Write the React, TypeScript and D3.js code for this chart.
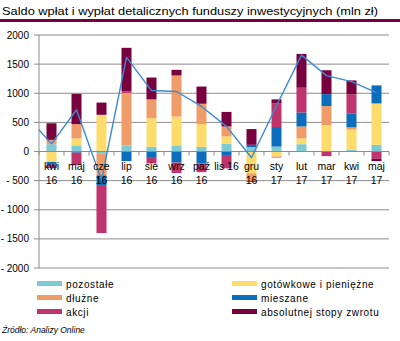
import React from "react";
import * as d3 from "d3";

const categories = ["kwi 16","maj 16","cze 16","lip 16","sie 16","wrz 16","paź 16","lis 16","gru 16","sty 17","lut 17","mar 17","kwi 17","maj 17"];
const xLabels: string[][] = [["kwi","16"],["maj","16"],["cze","16"],["lip","16"],["sie","16"],["wrz","16"],["paź","16"],["lis 16"],["gru","16"],["sty","17"],["lut","17"],["mar","17"],["kwi","17"],["maj","17"]];

const pozostale  = [125, 105, -30, 105, 80, 105, 80, 135, 75, 85, 125, 10, 30, 115];
const gotowkowe  = [-180, 120, 630, 0, 490, 495, 390, 125, -375, -85, 100, 445, 345, 710];
const dluzne     = [75, 245, -380, 900, 325, 705, 350, 170, -130, -25, 205, 325, 40, 0];
const mieszane   = [-45, -20, -180, -165, -95, -190, -205, -75, 40, 335, 240, 205, 240, 310];
const akcji      = [-60, -210, -810, 30, -110, -180, -150, -215, -20, 405, 425, -80, 325, -125];
const absolutnej = [285, 520, 210, 745, 375, 97, 295, 250, 270, 70, 580, 410, 240, -40];

// total line; first value belongs to the month before the first category
const linePrev = 610;
const lineTotal = [131, 717, -490, 1616, 1046, 1030, 773, 432, -108, 785, 1655, 1302, 1200, 1010];

const yTicks = [2000, 1500, 1000, 500, 0, -500, -1000, -1500, -2000];

const seriesKeys = ["pozostale", "gotowkowe", "dluzne", "mieszane", "akcji", "absolutnej"];
const seriesNames: Record<string, string> = {
  pozostale: "pozostałe",
  gotowkowe: "gotówkowe i pieniężne",
  dluzne: "dłużne",
  mieszane: "mieszane",
  akcji: "akcji",
  absolutnej: "absolutnej stopy zwrotu",
};
const seriesColors: Record<string, string> = {
  pozostale: "#7ccad2",
  gotowkowe: "#fddc6c",
  dluzne: "#ef9c69",
  mieszane: "#0b6ebd",
  akcji: "#bf346c",
  absolutnej: "#78003f",
};
const legendLeft = ["pozostale", "dluzne", "akcji"];
const legendRight = ["gotowkowe", "mieszane", "absolutnej"];

export default function App() {
  const W = 400, H = 341;
  const left = 39, right = 389, top = 35, bottom = 268;
  const font = "'Liberation Sans', Arial, sans-serif";

  const rows = categories.map((c, i) => ({
    cat: c,
    pozostale: pozostale[i],
    gotowkowe: gotowkowe[i],
    dluzne: dluzne[i],
    mieszane: mieszane[i],
    akcji: akcji[i],
    absolutnej: absolutnej[i],
  }));

  const x = d3.scaleBand<string>().domain(categories).range([left, right]).paddingInner(0.6).paddingOuter(0.3);
  const y = d3.scaleLinear().domain([-2000, 2000]).range([bottom, top]);
  const stack = d3.stack<any>().keys(seriesKeys).offset(d3.stackOffsetDiverging);
  const stacked = stack(rows);

  const step = x.step();
  const cx = (i: number) => (x(categories[i]) as number) + x.bandwidth() / 2;
  const linePts: [number, number][] = [[cx(0) - step, y(linePrev)], ...lineTotal.map((v, i) => [cx(i), y(v)] as [number, number])];
  const linePath = d3.line()(linePts) as string;

  const y0 = y(0);

  return (
    <svg width={W} height={H} style={{ position: "absolute", left: 0, top: 0 }} fontFamily={font}>
      <defs>
        <clipPath id="plotclip">
          <rect x={left} y={top - 5} width={right - left} height={bottom - top + 10} />
        </clipPath>
      </defs>
      <rect width={W} height={H} fill="#fff" />
      <text x={2} y={15} fontSize={11} fill="#000" textLength={376} lengthAdjust="spacingAndGlyphs">
        Saldo wpłat i wypłat detalicznych funduszy inwestycyjnych (mln zł)
      </text>
      <rect x={0} y={19} width={W} height={3} fill="#78003f" />

      {yTicks.map((t) => (
        <g key={t}>
          {t !== 0 && <line x1={left - 5} x2={right} y1={y(t)} y2={y(t)} stroke="#8c8c8c" strokeWidth={1} />}
          <text x={29} y={y(t) + 3.5} fontSize={10} textAnchor="end" fill="#000">
            {t < 0 ? "- " + Math.abs(t) : String(t)}
          </text>
        </g>
      ))}
      <line x1={left} x2={left} y1={top} y2={bottom} stroke="#8c8c8c" strokeWidth={1} />

      {stacked.map((s) => (
        <g key={s.key} fill={seriesColors[s.key]}>
          {s.map((d, i) => {
            const yy0 = y(d[0]);
            const yy1 = y(d[1]);
            const h = Math.abs(yy0 - yy1);
            if (h < 0.01) return null;
            return <rect key={i} x={x(categories[i])} y={Math.min(yy0, yy1)} width={x.bandwidth()} height={h} />;
          })}
        </g>
      ))}

      <line x1={left - 5} x2={right} y1={y0} y2={y0} stroke="#8c8c8c" strokeWidth={1} />
      {d3.range(categories.length + 1).map((k) => (
        <line key={k} x1={left + k * step} x2={left + k * step} y1={y0} y2={y0 + 4} stroke="#8c8c8c" strokeWidth={1} />
      ))}

      <g clipPath="url(#plotclip)">
        <path d={linePath} fill="none" stroke="#3a8ad3" strokeWidth={1.4} strokeLinejoin="round" />
      </g>

      {xLabels.map((lines, i) => (
        <text key={i} x={cx(i)} y={170} fontSize={10.5} textAnchor="middle" fill="#000">
          {lines.map((l, j) => (
            <tspan key={j} x={cx(i)} dy={j === 0 ? 0 : 14}>{l}</tspan>
          ))}
        </text>
      ))}

      {[legendLeft, legendRight].map((col, ci) => (
        <g key={ci}>
          {col.map((k, ri) => {
            const lx = ci === 0 ? 37 : 232;
            const ly = 281 + ri * 14;
            return (
              <g key={k}>
                <rect x={lx} y={ly} width={25} height={5} fill={seriesColors[k]} />
                <text x={lx + 29} y={ly + 6.5} fontSize={10} fill="#000" letterSpacing={0.6}>{seriesNames[k]}</text>
              </g>
            );
          })}
        </g>
      ))}

      <text x={2} y={333} fontSize={8.5} fontStyle="italic" fill="#000">Źródło: Analizy Online</text>
    </svg>
  );
}
